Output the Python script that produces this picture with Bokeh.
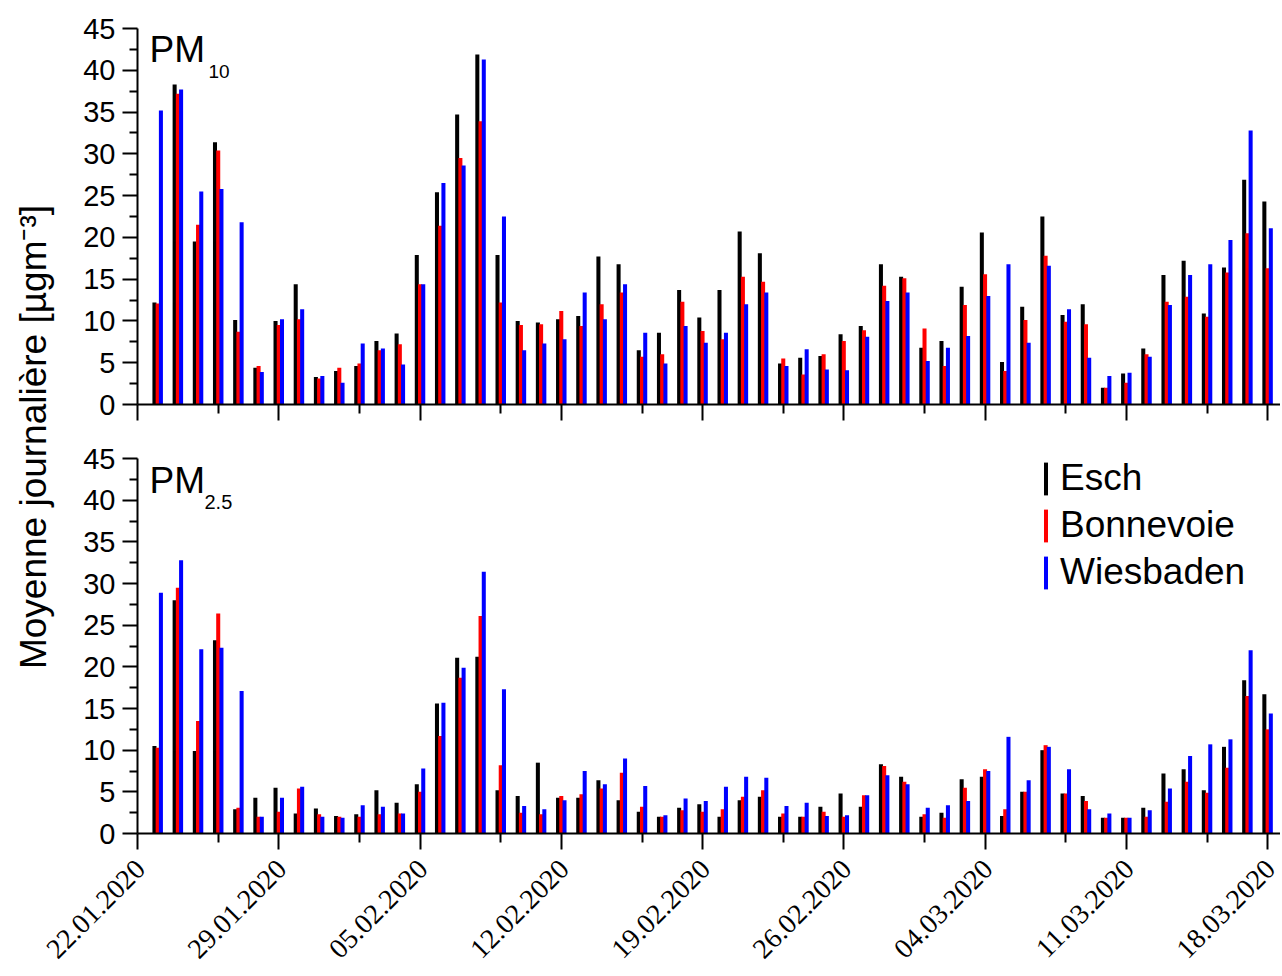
import math
from datetime import datetime
import pandas as pd
from bokeh.plotting import figure
from bokeh.models import (ColumnDataSource, Range1d, FixedTicker, Label, LabelSet, Legend,
                          LegendItem, DatetimeTickFormatter)
from bokeh.layouts import row, column
from bokeh.transform import dodge
from bokeh.embed import file_html
from bokeh.resources import INLINE

# ---------------- data ----------------
dates = pd.date_range("2020-01-23", "2020-03-18", freq="D")
stations = ["Esch", "Bonnevoie", "Wiesbaden"]
colors = ["#000000", "#FF0000", "#0000FF"]

tick_labels = ["22.01.2020", "29.01.2020", "05.02.2020", "12.02.2020", "19.02.2020",
               "26.02.2020", "04.03.2020", "11.03.2020", "18.03.2020"]

esch_pm10 = [12.2, 38.3, 19.5, 31.4, 10.1, 4.4, 10.0, 14.4, 3.3, 4.0, 4.6, 7.6, 8.5, 17.9,
             25.4, 34.7, 41.9, 17.9, 10.0, 9.8, 10.2, 10.6, 17.7, 16.8, 6.5, 8.6, 13.7, 10.4,
             13.7, 20.7, 18.1, 4.9, 5.6, 5.8, 8.4, 9.4, 16.8, 15.3, 6.8, 7.6, 14.1, 20.6,
             5.1, 11.7, 22.5, 10.7, 12.0, 2.0, 3.7, 6.7, 15.5, 17.2, 10.9, 16.4, 26.9, 24.3]
bonn_pm10 = [12.1, 37.2, 21.5, 30.4, 8.7, 4.6, 9.5, 10.2, 3.1, 4.4, 4.9, 6.5, 7.2, 14.4,
             21.4, 29.5, 33.9, 12.2, 9.5, 9.6, 11.2, 9.4, 12.0, 13.4, 5.7, 6.0, 12.3, 8.8,
             7.8, 15.3, 14.7, 5.5, 3.6, 6.0, 7.6, 8.9, 14.2, 15.1, 9.1, 4.6, 11.9, 15.6,
             4.0, 10.1, 17.8, 9.9, 9.6, 2.0, 2.6, 6.0, 12.3, 12.9, 10.5, 15.8, 20.5, 16.3]
wies_pm10 = [35.2, 37.7, 25.5, 25.8, 21.8, 3.9, 10.2, 11.4, 3.4, 2.6, 7.3, 6.7, 4.8, 14.4,
             26.5, 28.6, 41.3, 22.5, 6.5, 7.3, 7.8, 13.4, 10.2, 14.4, 8.6, 4.9, 9.4, 7.4,
             8.6, 12.0, 13.4, 4.6, 6.6, 4.2, 4.1, 8.1, 12.4, 13.4, 5.2, 6.8, 8.2, 13.0,
             16.8, 7.4, 16.6, 11.4, 5.6, 3.4, 3.8, 5.7, 11.9, 15.5, 16.8, 19.7, 32.8, 21.1]

esch_pm25 = [10.5, 28.0, 9.9, 23.2, 2.9, 4.3, 5.5, 2.4, 3.0, 2.1, 2.3, 5.2, 3.7, 5.9,
             15.6, 21.1, 21.2, 5.2, 4.5, 8.5, 4.3, 4.3, 6.4, 4.0, 2.6, 2.0, 3.1, 3.5,
             2.0, 4.0, 4.4, 2.0, 2.0, 3.2, 4.8, 3.2, 8.3, 6.8, 2.0, 2.5, 6.5, 6.8,
             2.1, 5.0, 10.0, 4.8, 4.5, 1.9, 1.9, 3.1, 7.2, 7.7, 5.2, 10.4, 18.4, 16.7]
bonn_pm25 = [10.3, 29.5, 13.5, 26.4, 3.1, 2.0, 2.6, 5.4, 2.3, 2.0, 2.0, 2.3, 2.4, 5.0,
             11.7, 18.7, 26.1, 8.2, 2.5, 2.3, 4.5, 4.7, 5.4, 7.3, 3.2, 2.0, 2.8, 2.6,
             2.9, 4.4, 5.2, 2.4, 2.0, 2.6, 2.0, 4.6, 8.1, 6.2, 2.3, 1.9, 5.5, 7.7,
             2.9, 5.0, 10.6, 4.8, 3.9, 1.9, 1.9, 2.0, 3.8, 6.2, 4.9, 7.9, 16.5, 12.5]
wies_pm25 = [28.9, 32.8, 22.1, 22.3, 17.1, 2.0, 4.3, 5.6, 2.0, 1.9, 3.4, 3.2, 2.4, 7.8,
             15.7, 19.9, 31.4, 17.3, 3.3, 2.9, 4.0, 7.5, 5.9, 9.0, 5.7, 2.2, 4.2, 3.9,
             5.6, 6.8, 6.7, 3.3, 3.7, 2.1, 2.2, 4.6, 7.0, 5.9, 3.1, 3.4, 3.9, 7.5,
             11.6, 6.4, 10.4, 7.7, 2.9, 2.4, 1.9, 2.8, 5.4, 9.3, 10.7, 11.3, 22.0, 14.4]

# ---------------- helpers ----------------
FONT = "Liberation Sans"
DAY = 86400000.0
EPOCH = datetime(1970, 1, 1)
t0_ms = (datetime(2020, 1, 22) - EPOCH).total_seconds() * 1000.0
major_ticks = [(datetime.strptime(s, "%d.%m.%Y") - EPOCH).total_seconds() * 1000.0
               for s in tick_labels]
minor_ticks = [m + 4 * DAY for m in major_ticks[:-1]]

SPAN_DAYS = 56.64          # visible days across the plotting frame
FRAME_LEFT = 137           # frame left edge in page pixels
FRAME_W = 1280 - FRAME_LEFT
x_range = Range1d(start=t0_ms, end=t0_ms + SPAN_DAYS * DAY)

BAR_W = 0.2 * DAY
OFFS = [-0.16 * DAY, 0.0, 0.16 * DAY]


def make_panel(height, border_top, border_bottom, series):
    p = figure(width=1210, height=height, x_range=x_range, y_range=Range1d(0, 45),
               x_axis_type="datetime", output_backend="svg", toolbar_location=None,
               min_border_left=67, min_border_right=0, min_border_top=border_top,
               min_border_bottom=border_bottom)
    p.outline_line_color = None
    p.grid.visible = False
    p.background_fill_color = "white"
    p.border_fill_color = "white"

    src = ColumnDataSource(dict(date=dates, esch=series[0], bonn=series[1], wies=series[2]))
    rs = []
    for col, c, off in zip(["esch", "bonn", "wies"], colors, OFFS):
        r = p.vbar(x=dodge("date", off), top=col, bottom=0, width=BAR_W, source=src,
                   fill_color=c, line_color=None)
        rs.append(r)

    ya = p.yaxis[0]
    ya.ticker = FixedTicker(ticks=[0, 5, 10, 15, 20, 25, 30, 35, 40, 45],
                            minor_ticks=[2.5, 7.5, 12.5, 17.5, 22.5, 27.5, 32.5, 37.5, 42.5])
    ya.axis_line_width = 2
    ya.axis_line_color = "black"
    ya.major_tick_line_width = 2
    ya.minor_tick_line_width = 2
    ya.major_tick_in = 0
    ya.minor_tick_in = 0
    ya.major_tick_out = 15
    ya.minor_tick_out = 8
    ya.major_label_text_font = FONT
    ya.major_label_text_font_size = "29px"
    ya.major_label_text_color = "black"
    ya.major_label_standoff = 7

    xa = p.xaxis[0]
    xa.ticker = FixedTicker(ticks=major_ticks, minor_ticks=minor_ticks)
    xa.formatter = DatetimeTickFormatter(days="%d.%m.%Y", months="%d.%m.%Y", years="%d.%m.%Y")
    xa.axis_line_width = 2
    xa.axis_line_color = "black"
    xa.major_tick_line_width = 2
    xa.minor_tick_line_width = 2
    xa.major_tick_in = 0
    xa.minor_tick_in = 0
    xa.major_tick_out = 16
    xa.minor_tick_out = 9
    # date labels are drawn once, under the lower panel (see below)
    xa.major_label_text_color = None
    xa.major_label_text_font_size = "1px"
    xa.major_label_standoff = 0
    return p, rs


p1, _ = make_panel(426, 28, 22, [esch_pm10, bonn_pm10, wies_pm10])
p2, rs2 = make_panel(427, 32, 20, [esch_pm25, bonn_pm25, wies_pm25])

# panel titles with subscripts
for p, sub, xs, yb, ys, fs in [(p1, "10", 3.52, 42.5, 39.85, "19px"),
                               (p2, "2.5", 3.32, 42.4, 39.8, "20px")]:
    p.add_layout(Label(x=t0_ms + 0.6 * DAY, y=yb, text="PM", text_font=FONT,
                       text_font_size="37px", text_color="black", text_baseline="middle"))
    p.add_layout(Label(x=t0_ms + xs * DAY, y=ys, text=sub, text_font=FONT,
                       text_font_size=fs, text_color="black", text_baseline="middle"))

legend = Legend(items=[LegendItem(label=s, renderers=[r]) for s, r in zip(stations, rs2)],
                location=(906, 240), glyph_width=5, glyph_height=41, spacing=5,
                label_standoff=12, label_text_font=FONT, label_text_font_size="37px",
                label_text_color="black", padding=0, margin=0,
                border_line_color=None, background_fill_alpha=0)
p2.add_layout(legend)

# shared y-axis title
H = 426 + 427
pl = figure(width=70, height=H, x_range=Range1d(0, 70), y_range=Range1d(0, H),
            output_backend="svg", toolbar_location=None, min_border=0,
            x_axis_type=None, y_axis_type=None)
pl.outline_line_color = None
pl.grid.visible = False
pl.add_layout(Label(x=33, y=H - 436.5, text="Moyenne journalière [µgm⁻³]", angle=math.pi / 2,
                    text_align="center", text_baseline="middle", text_font=FONT,
                    text_font_size="37px", text_color="black"))

# rotated date labels under the lower panel: full-width strip with the same day scale
days_per_px = SPAN_DAYS / FRAME_W
x_range_lab = Range1d(start=t0_ms - FRAME_LEFT * days_per_px * DAY,
                      end=t0_ms + SPAN_DAYS * DAY)
p3 = figure(width=1280, height=121, x_range=x_range_lab, y_range=Range1d(0, 1),
            output_backend="svg", toolbar_location=None, min_border=0,
            x_axis_type=None, y_axis_type=None)
p3.outline_line_color = None
p3.grid.visible = False
lab_src = ColumnDataSource(dict(x=major_ticks, y=[1] * len(major_ticks), text=tick_labels))
p3.add_layout(LabelSet(x="x", y="y", text="text", source=lab_src, angle=math.pi / 4,
                       x_offset=3, y_offset=-11, text_align="right", text_baseline="middle",
                       text_font=FONT, text_font_size="28px", text_color="black"))

layout = column(row(pl, column(p1, p2)), p3)
open("out.html", "w").write(file_html(layout, INLINE))
